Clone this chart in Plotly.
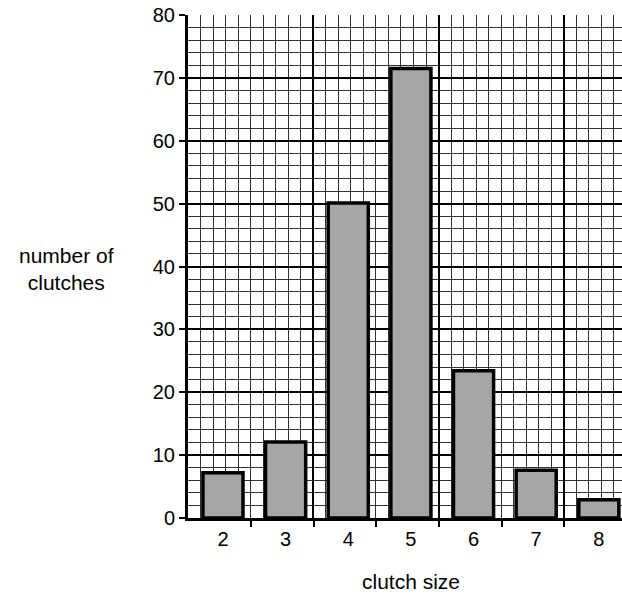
import plotly.graph_objects as go

clutch_size = [2, 3, 4, 5, 6, 7, 8]
num_clutches = [7.2, 12.1, 50.1, 71.5, 23.4, 7.6, 2.9]
y_ticks = [0, 10, 20, 30, 40, 50, 60, 70, 80]
x_labels = ["2", "3", "4", "5", "6", "7", "8"]

XR = [1.442, 8.37]
FONT = "Liberation Sans, Arial, sans-serif"

fig = go.Figure()
# bars on the grid axis
fig.add_trace(go.Bar(
    x=clutch_size, y=num_clutches, width=0.64,
    marker=dict(color="#a6a6a6", line=dict(color="black", width=3.5)),
    xaxis="x", yaxis="y", hoverinfo="skip",
))
# invisible helpers so the overlay axes are drawn
for ax in ["x2", "x3"]:
    fig.add_trace(go.Scatter(
        x=clutch_size, y=num_clutches, xaxis=ax, yaxis="y",
        mode="markers", marker=dict(opacity=0), hoverinfo="skip",
    ))

fig.update_layout(
    width=622, height=598,
    margin=dict(l=188, r=0, t=15, b=80),
    plot_bgcolor="white", paper_bgcolor="white",
    showlegend=False,
    font=dict(family=FONT, size=20, color="black"),
    xaxis=dict(
        range=XR, tick0=1.442, dtick=2,
        showgrid=True, gridcolor="black", gridwidth=2,
        minor=dict(dtick=0.2, tick0=1.442, showgrid=True, gridcolor="#333333", gridwidth=1),
        showticklabels=False, ticks="", zeroline=False, showline=False,
    ),
    xaxis2=dict(
        range=XR, overlaying="x", anchor="y", side="bottom",
        tickmode="array", tickvals=clutch_size, ticktext=x_labels,
        ticks="", showgrid=False, zeroline=False, showline=False,
        tickfont=dict(size=20), ticklabelstandoff=7,
    ),
    xaxis3=dict(
        range=XR, overlaying="x", anchor="y", side="bottom", tickmode="array",
        tickvals=[v + 0.45 for v in clutch_size[:-1]],
        ticks="outside", ticklen=6, tickwidth=2, tickcolor="black",
        showticklabels=False, showgrid=False, zeroline=False,
        showline=True, linecolor="black", linewidth=3,
    ),
    yaxis=dict(
        range=[0, 80], tickmode="array", tickvals=y_ticks,
        ticks="outside", ticklen=6, tickwidth=2, tickcolor="black",
        showgrid=True, gridcolor="black", gridwidth=2,
        minor=dict(dtick=2, showgrid=True, gridcolor="#333333", gridwidth=1),
        zeroline=False, showline=True, linecolor="black", linewidth=3,
        tickfont=dict(size=20), ticklabelstandoff=0,
    ),
)

fig.add_annotation(text="number of<br>clutches", xref="paper", yref="paper",
                   x=-0.279, y=0.496, showarrow=False, font=dict(size=21),
                   align="center", xanchor="center", yanchor="middle")
fig.add_annotation(text="clutch size", xref="paper", yref="paper",
                   x=0.514, y=-0.127, showarrow=False, font=dict(size=21),
                   xanchor="center", yanchor="middle")

fig.write_html("out.html", config={"displayModeBar": False},
               post_script="document.body.style.margin='0';document.body.style.overflow='hidden';")
